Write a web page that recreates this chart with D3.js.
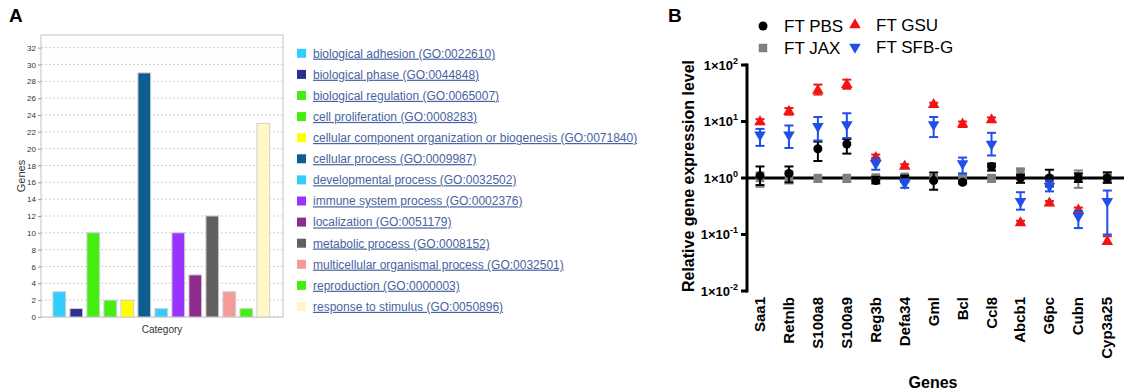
<!DOCTYPE html>
<html>
<head>
<meta charset="utf-8">
<script src="https://cdn.jsdelivr.net/npm/d3@7"></script>
<style>
  body { margin: 0; background: #fff; }
  svg { display: block; font-family: "Liberation Sans", Arial, sans-serif; }
</style>
</head>
<body>
<div id="chart"></div>
<script>
'use strict';

// ---- panel A: GO biological process categories
const goTerms = [
  'biological adhesion (GO:0022610)',
  'biological phase (GO:0044848)',
  'biological regulation (GO:0065007)',
  'cell proliferation (GO:0008283)',
  'cellular component organization or biogenesis (GO:0071840)',
  'cellular process (GO:0009987)',
  'developmental process (GO:0032502)',
  'immune system process (GO:0002376)',
  'localization (GO:0051179)',
  'metabolic process (GO:0008152)',
  'multicellular organismal process (GO:0032501)',
  'reproduction (GO:0000003)',
  'response to stimulus (GO:0050896)'
];
const goCounts = [3, 1, 10, 2, 2, 29, 1, 10, 5, 12, 3, 1, 23];
const goColors = ['#33ccff', '#2b2f8f', '#44ee11', '#44ee11', '#ffff00', '#0b5e8f', '#33ccff',
                  '#9933ff', '#8e2c8e', '#606060', '#f59a9a', '#44ee11', '#fff8c4'];
const goTicks = d3.range(0, 33, 2);

// ---- panel B: relative expression (mean, lower and upper error)
const genes = ['Saa1', 'Retnlb', 'S100a8', 'S100a9', 'Reg3b', 'Defa34', 'Gml', 'Bcl', 'Ccl8',
               'Abcb1', 'G6pc', 'Cubn', 'Cyp3a25'];
const groups = ['FT PBS', 'FT JAX', 'FT GSU', 'FT SFB-G'];

const pbsMean = [1.1, 1.2, 3.3, 4.0, 0.9, 0.95, 0.9, 0.84, 1.6, 1.0, 1.0, 1.0, 1.0];
const pbsLo   = [0.75, 0.84, 2.0, 2.7, 0.8, 0.85, 0.62, 0.8, 1.35, 0.82, 0.71, 0.85, 0.82];
const pbsHi   = [1.6, 1.6, 4.4, 4.9, 1.05, 1.1, 1.25, 0.9, 1.8, 1.14, 1.4, 1.2, 1.26];

const jaxMean = [1.0, 1.05, 1.0, 1.0, 1.02, 1.05, 1.0, 1.05, 1.0, 1.3, 0.95, 1.07, 1.0];
const jaxLo   = [0.7, 0.8, 0.85, 0.85, 0.9, 0.95, 0.9, 0.95, 0.85, 1.15, 0.8, 0.67, 0.85];
const jaxHi   = [1.25, 1.3, 1.05, 1.05, 1.1, 1.12, 1.1, 1.12, 1.1, 1.44, 1.1, 1.36, 1.15];

const gsuMean = [9.8, 15, 35.6, 45, 2.3, 1.6, 19.8, 9.0, 10.7, 0.16, 0.36, 0.27, 0.075];
const gsuLo   = [9.0, 13.2, 30, 38, 2.1, 1.5, 18, 8, 9.8, 0.15, 0.33, 0.25, 0.068];
const gsuHi   = [11, 17.3, 45, 55, 2.6, 1.75, 21.5, 10, 11.8, 0.175, 0.39, 0.3, 0.093];

const sfbMean = [5.8, 5.8, 8.2, 8.8, 1.8, 0.81, 8.8, 1.8, 4.0, 0.385, 0.72, 0.21, 0.385];
const sfbLo   = [3.7, 3.4, 4.6, 5.1, 1.4, 0.67, 5.3, 1.2, 2.5, 0.275, 0.58, 0.13, 0.1];
const sfbHi   = [7.4, 8.5, 12, 14, 2.26, 0.95, 12, 2.3, 6.3, 0.56, 0.9, 0.26, 0.6];

const logTicks = [100, 10, 1, 0.1, 0.01];
const logTickExp = ['2', '1', '0', '-1', '-2'];

const W = 1124, H = 392;
const svg = d3.select('#chart').append('svg').attr('width', W).attr('height', H);

// panel letters
svg.append('text').attr('x', 9).attr('y', 22).attr('font-size', 19).attr('font-weight', 'bold').text('A');
svg.append('text').attr('x', 668).attr('y', 22).attr('font-size', 19).attr('font-weight', 'bold').text('B');

// ================= panel A =================
var ax = d3.scaleBand().domain(goTerms).range([50.8, 271.8]).paddingInner(0.25).paddingOuter(0.125),
    ay = d3.scaleLinear().domain([0, 33.5]).range([317, 35]);

var pa = svg.append('g').attr('class', 'panel-a');

// dotted grid
pa.selectAll('line.grid')
  .data(goTicks)
  .enter().append('line')
  .attr('class', 'grid')
  .attr('x1', 41).attr('x2', 283)
  .attr('y1', (d) => ay(d)).attr('y2', (d) => ay(d))
  .attr('stroke', '#cfcfcf')
  .attr('stroke-dasharray', '2,2');

pa.append('rect')
  .attr('x', 41).attr('y', 35)
  .attr('width', 242).attr('height', ay(0) - 35)
  .attr('fill', 'none')
  .attr('stroke', '#c4c4c4');

var aAxis = pa.append('g')
  .attr('transform', 'translate(41,0)')
  .call(d3.axisLeft(ay).tickValues(goTicks).tickSize(3).tickPadding(2));
aAxis.select('.domain').remove();
aAxis.selectAll('line').attr('stroke', '#999');
aAxis.selectAll('text').attr('font-size', 8).attr('fill', '#333').attr('font-family', '"Liberation Sans", Arial');

pa.selectAll('rect.bar')
  .data(goCounts)
  .enter().append('rect')
  .attr('class', 'bar')
  .attr('x', (d, i) => ax(goTerms[i]))
  .attr('width', ax.bandwidth())
  .attr('y', (d) => ay(d))
  .attr('height', (d) => ay(0) - ay(d))
  .attr('fill', (d, i) => goColors[i])
  .attr('stroke', '#d0d0d0')
  .attr('stroke-width', 1);

pa.append('text')
  .attr('x', 162).attr('y', 333)
  .attr('text-anchor', 'middle').attr('font-size', 10).attr('fill', '#333')
  .text('Category');

pa.append('text')
  .attr('transform', 'translate(25,176) rotate(-90)')
  .attr('text-anchor', 'middle').attr('font-size', 11).attr('fill', '#333')
  .text('Genes');

// legend
var aLeg = pa.selectAll('g.leg')
  .data(goTerms)
  .enter().append('g')
  .attr('class', 'leg')
  .attr('transform', (d, i) => 'translate(297,' + (53.3 + i * 21.1) + ')');

aLeg.append('rect')
  .attr('x', 0).attr('y', -4.5)
  .attr('width', 9).attr('height', 9)
  .attr('fill', (d, i) => goColors[i]);

aLeg.append('text')
  .attr('x', 16).attr('y', 4.3)
  .attr('font-size', 12)
  .attr('fill', '#4863a0')
  .attr('text-decoration', 'underline')
  .text((d) => d);

// ================= panel B =================
var bx = d3.scalePoint().domain(genes).range([760, 1107.3]),
    by = d3.scaleLog().domain([0.01, 100]).range([291, 65]);

var pb = svg.append('g').attr('class', 'panel-b');

// y axis with 1x10^n labels
pb.append('line')
  .attr('x1', 747).attr('x2', 747)
  .attr('y1', by(100) - 1.5).attr('y2', by(0.01) + 1.5)
  .attr('stroke', '#000').attr('stroke-width', 3);

var yt = pb.selectAll('g.ytick')
  .data(logTicks)
  .enter().append('g')
  .attr('class', 'ytick')
  .attr('transform', (d) => 'translate(747,' + by(d) + ')');

yt.append('line')
  .attr('x1', -6).attr('x2', 0)
  .attr('stroke', '#000').attr('stroke-width', 3);

var ytl = yt.append('text')
  .attr('x', -9).attr('y', 4.5)
  .attr('text-anchor', 'end')
  .attr('font-size', 13).attr('font-weight', 'bold');
ytl.append('tspan').text('1\u00d710');
ytl.append('tspan').attr('dy', -6).attr('font-size', 9).text((d, i) => logTickExp[i]);

// reference line at 1
pb.append('line')
  .attr('x1', 747).attr('x2', 1124)
  .attr('y1', by(1)).attr('y2', by(1))
  .attr('stroke', '#000').attr('stroke-width', 3);

pb.append('text')
  .attr('transform', 'translate(694,176) rotate(-90)')
  .attr('text-anchor', 'middle')
  .attr('font-size', 16).attr('font-weight', 'bold')
  .text('Relative gene expression level');

// gene labels
pb.selectAll('text.gene')
  .data(genes)
  .enter().append('text')
  .attr('class', 'gene')
  .attr('transform', (d) => 'translate(' + (bx(d) + 5) + ',297) rotate(-90)')
  .attr('text-anchor', 'end')
  .attr('font-size', 15).attr('font-weight', 'bold')
  .text((d) => d);

pb.append('text')
  .attr('x', 933).attr('y', 388)
  .attr('text-anchor', 'middle')
  .attr('font-size', 16).attr('font-weight', 'bold')
  .text('Genes');

// series, drawn back to front
var series = [
  { name: groups[1], mean: jaxMean, lo: jaxLo, hi: jaxHi, color: '#808080', shape: d3.symbolSquare, size: 72, rot: 0 },
  { name: groups[0], mean: pbsMean, lo: pbsLo, hi: pbsHi, color: '#000000', shape: d3.symbolCircle, size: 64, rot: 0 },
  { name: groups[2], mean: gsuMean, lo: gsuLo, hi: gsuHi, color: '#f01414', shape: d3.symbolTriangle, size: 58, rot: 0 },
  { name: groups[3], mean: sfbMean, lo: sfbLo, hi: sfbHi, color: '#1f4fe8', shape: d3.symbolTriangle, size: 58, rot: 180 }
];

series.forEach(function (s) {
  var g = pb.append('g').attr('class', 'series');
  var pts = genes.map((gene, i) => ({ gene: gene, mean: s.mean[i], lo: s.lo[i], hi: s.hi[i] }));

  var eb = g.selectAll('g.err')
    .data(pts)
    .enter().append('g')
    .attr('class', 'err')
    .attr('stroke', s.color)
    .attr('stroke-width', 2);

  eb.append('line')
    .attr('x1', (d) => bx(d.gene)).attr('x2', (d) => bx(d.gene))
    .attr('y1', (d) => by(d.lo)).attr('y2', (d) => by(d.hi));
  eb.append('line')
    .attr('x1', (d) => bx(d.gene) - 4.5).attr('x2', (d) => bx(d.gene) + 4.5)
    .attr('y1', (d) => by(d.lo)).attr('y2', (d) => by(d.lo));
  eb.append('line')
    .attr('x1', (d) => bx(d.gene) - 4.5).attr('x2', (d) => bx(d.gene) + 4.5)
    .attr('y1', (d) => by(d.hi)).attr('y2', (d) => by(d.hi));

  g.selectAll('path.pt')
    .data(pts)
    .enter().append('path')
    .attr('class', 'pt')
    .attr('d', d3.symbol().type(s.shape).size(s.size))
    .attr('transform', (d) => 'translate(' + bx(d.gene) + ',' + by(d.mean) + ') rotate(' + s.rot + ')')
    .attr('fill', s.color);
});

// legend
var legPos = [[763, 26], [763, 48], [855, 25], [855, 47]];
var legSeries = [series[1], series[0], series[2], series[3]];

var bLeg = pb.selectAll('g.bleg')
  .data(legSeries)
  .enter().append('g')
  .attr('class', 'bleg')
  .attr('transform', (d, i) => 'translate(' + legPos[i][0] + ',' + legPos[i][1] + ')');

bLeg.append('path')
  .attr('d', (d) => d3.symbol().type(d.shape).size(d.size)())
  .attr('transform', (d) => 'rotate(' + d.rot + ')')
  .attr('fill', (d) => d.color);

bLeg.append('text')
  .attr('x', 21).attr('y', 6)
  .attr('font-size', 17)
  .text((d) => d.name);
</script>
</body>
</html>
